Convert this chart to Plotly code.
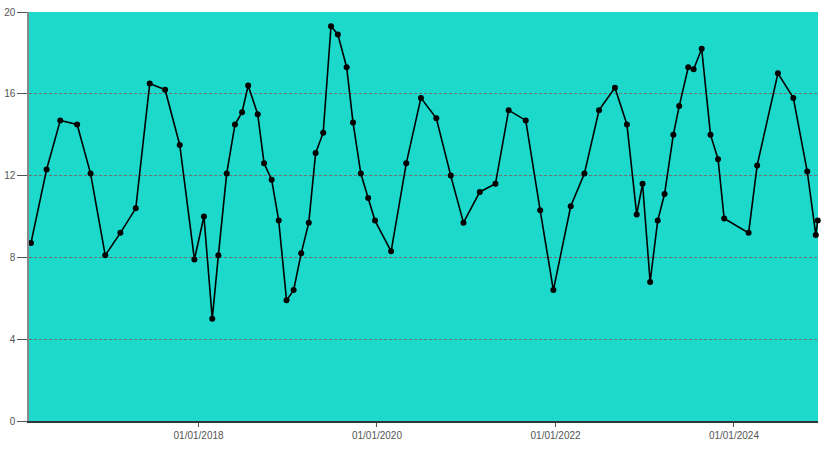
import plotly.graph_objects as go

dates = [
    "2016-02-15", "2016-04-19", "2016-06-14", "2016-08-22", "2016-10-16", "2016-12-15",
    "2017-02-15", "2017-04-19", "2017-06-15", "2017-08-17", "2017-10-16", "2017-12-15",
    "2018-01-23", "2018-02-26", "2018-03-23", "2018-04-26", "2018-05-30", "2018-06-28",
    "2018-07-23", "2018-08-31", "2018-09-26", "2018-10-27", "2018-11-25", "2018-12-27",
    "2019-01-25", "2019-02-25", "2019-03-28", "2019-04-25", "2019-05-26", "2019-06-27",
    "2019-07-25", "2019-08-30", "2019-09-25", "2019-10-27", "2019-11-26", "2019-12-24",
    "2020-02-28", "2020-04-30", "2020-06-29", "2020-08-31", "2020-10-29", "2020-12-20",
    "2021-02-25", "2021-04-30", "2021-06-23", "2021-09-01", "2021-10-30", "2021-12-23",
    "2022-03-04", "2022-04-29", "2022-06-28", "2022-09-01", "2022-10-20", "2022-11-29",
    "2022-12-23", "2023-01-23", "2023-02-23", "2023-03-23", "2023-04-28", "2023-05-22",
    "2023-06-28", "2023-07-20", "2023-08-22", "2023-09-27", "2023-10-28", "2023-11-22",
    "2024-03-01", "2024-04-05", "2024-06-29", "2024-08-31", "2024-10-27", "2024-12-01",
    "2024-12-09",
]
values = [
    8.7, 12.3, 14.7, 14.5, 12.1, 8.1,
    9.2, 10.4, 16.5, 16.2, 13.5, 7.9,
    10.0, 5.0, 8.1, 12.1, 14.5, 15.1,
    16.4, 15.0, 12.6, 11.8, 9.8, 5.9,
    6.4, 8.2, 9.7, 13.1, 14.1, 19.3,
    18.9, 17.3, 14.6, 12.1, 10.9, 9.8,
    8.3, 12.6, 15.8, 14.8, 12.0, 9.7,
    11.2, 11.6, 15.2, 14.7, 10.3, 6.4,
    10.5, 12.1, 15.2, 16.3, 14.5, 10.1,
    11.6, 6.8, 9.8, 11.1, 14.0, 15.4,
    17.3, 17.2, 18.2, 14.0, 12.8, 9.9,
    9.2, 12.5, 17.0, 15.8, 12.2, 9.1,
    9.8,
]
x_ticks = ["2018-01-01", "2020-01-01", "2022-01-01", "2024-01-01"]
x_tick_labels = ["01/01/2018", "01/01/2020", "01/01/2022", "01/01/2024"]
y_ticks = [0, 4, 8, 12, 16, 20]

fig = go.Figure()
fig.add_trace(go.Scatter(
    x=dates, y=values, mode="lines+markers",
    line=dict(color="black", width=1.6),
    marker=dict(color="black", size=6),
    cliponaxis=False,
    showlegend=False,
))

fig.update_layout(
    width=838, height=451,
    margin=dict(l=29, r=20, t=12, b=30, autoexpand=False),
    paper_bgcolor="white",
    plot_bgcolor="#1CD9CC",
    font=dict(family="Liberation Sans, Arial, sans-serif", size=10, color="#555555"),
    xaxis=dict(
        range=["2016-02-07", "2024-12-10"],
        tickmode="array", tickvals=x_ticks, ticktext=x_tick_labels,
        showgrid=False, zeroline=False, automargin=False,
        showline=True, linecolor="#333333", linewidth=1.5,
        ticks="outside", ticklen=4, tickcolor="#555555", tickwidth=1,
    ),
    yaxis=dict(
        range=[0, 20],
        tickmode="array", tickvals=y_ticks, automargin=False,
        showgrid=True, gridcolor="#707070", griddash="3px,2px", gridwidth=1,
        zeroline=False,
        showline=True, linecolor="#888888", linewidth=1.5,
        ticks="outside", ticklen=10, tickcolor="#555555", tickwidth=1,
    ),
)

fig.write_html(
    "out.html",
    config={"displayModeBar": False},
    post_script="document.body.style.margin='0';document.body.style.padding='0';",
)
